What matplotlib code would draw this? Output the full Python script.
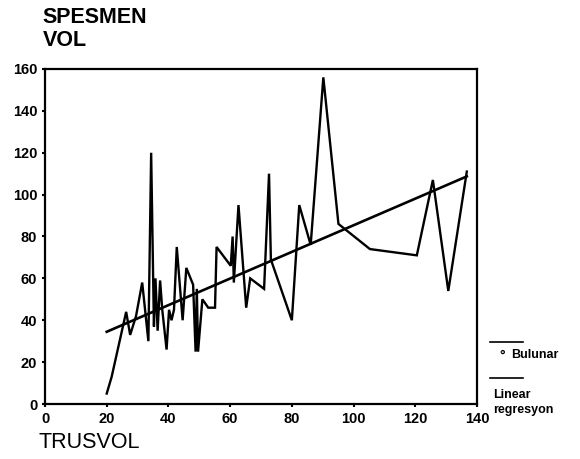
import matplotlib.pyplot as plt
from matplotlib.lines import Line2D

plt.rcParams['font.family'] = ['Liberation Sans', 'DejaVu Sans']

# TRUSVOL vs SPESMEN VOL (bulunan), okunan degerler
trus_vol = [20, 21.6, 26.3, 27.6, 29.5, 31.5, 33.5, 34.4, 35.3, 35.8, 36.5, 37.3, 38, 39.4,
            40.2, 41, 41.8, 42.7, 44.6, 45.8, 48, 48.8, 49.2, 49.6, 51, 52.9, 55.1, 55.6,
            60.2, 60.8, 61.2, 62.7, 65.2, 66.5, 71, 72.6, 73.2, 80, 82.4, 86.1, 90.2,
            95.1, 105.3, 120.5, 125.7, 130.7, 136.7]
spesmen_vol = [5, 13, 44, 33, 42, 58, 30, 120, 37, 60, 35, 59, 45, 26,
               45, 40, 45, 75, 40, 65, 57, 25, 55, 25, 50, 46, 46, 75,
               66, 80, 58, 95, 46, 60, 55, 110, 69, 40, 95, 76, 156,
               86, 74, 71, 107, 54, 111]

# lineer regresyon cizgisi
reg_x = [20, 136.7]
reg_y = [34.5, 108.7]

x_ticks = [0, 20, 40, 60, 80, 100, 120, 140]
y_ticks = [0, 20, 40, 60, 80, 100, 120, 140, 160]

fig = plt.figure(figsize=(5.8, 4.59), dpi=100)
ax = fig.add_axes([0.0776, 0.1198, 0.7448, 0.7299])

ax.plot(trus_vol, spesmen_vol, color='black', lw=1.7, solid_joinstyle='miter')
ax.plot(reg_x, reg_y, color='black', lw=1.9)

ax.set_xlim(0, 140)
ax.set_ylim(0, 160)
ax.set_xticks(x_ticks)
ax.set_yticks(y_ticks)
ax.tick_params(direction='out', length=2.5, width=1.5, labelsize=10.5, pad=3)
for lab in ax.get_xticklabels() + ax.get_yticklabels():
    lab.set_fontweight('bold')
for s in ax.spines.values():
    s.set_linewidth(1.6)

fig.text(0.074, 0.985, 'SPESMEN\nVOL', fontsize=15.5, fontweight='bold', va='top',
         ha='left', linespacing=1.15)
fig.text(0.066, 0.012, 'TRUSVOL', fontsize=15.5, va='bottom', ha='left')

# legend (elle cizilmis)
fig.add_artist(Line2D([0.845, 0.902], [0.255, 0.255], color='black', lw=1.2))
fig.text(0.866, 0.226, '°', fontsize=10, ha='center', va='center', fontweight='bold')
fig.text(0.882, 0.226, 'Bulunar', fontsize=9, ha='left', va='center', fontweight='bold')
fig.add_artist(Line2D([0.845, 0.902], [0.177, 0.177], color='black', lw=1.2))
fig.text(0.85, 0.14, 'Linear', fontsize=9, ha='left', va='center', fontweight='bold')
fig.text(0.85, 0.107, 'regresyon', fontsize=9, ha='left', va='center', fontweight='bold')

fig.savefig('out.png', dpi=100)
